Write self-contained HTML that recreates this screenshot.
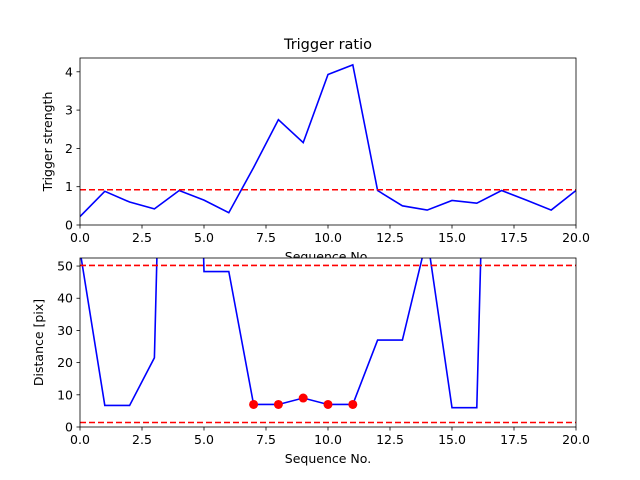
<!DOCTYPE html>
<html><head><meta charset="utf-8"><style>
body{margin:0;background:#fff}
svg{display:block;font-family:"DejaVu Sans","Liberation Sans",sans-serif}
</style></head><body>
<svg id="c" width="640" height="480" viewBox="0 0 640 480">
<rect width="640" height="480" fill="#fff"/>
<defs>
<clipPath id="cp1"><rect x="80" y="58" width="496" height="167"/></clipPath>
<clipPath id="cp2"><rect x="80" y="258" width="496" height="169"/></clipPath>
</defs>
<g id="g"></g>
</svg>
<script>
const seq = [0,1,2,3,4,5,6,7,8,9,10,11,12,13,14,15,16,17,18,19,20];
const strength = [0.22,0.88,0.6,0.42,0.9,0.65,0.32,1.5,2.75,2.15,3.93,4.18,0.9,0.5,0.39,0.64,0.57,0.9,0.65,0.39,0.9];
const strengthThreshold = 0.92;
const distance = [54.8,6.7,6.7,21.5,330,48.3,48.3,7,7,9,7,7,27,27,59,6,6,300,300,300,300];
const markedSeq = [7,8,9,10,11];
const markedDist = [7,7,9,7,7];
const distThresholds = [50.2,1.4];
const xTicks = [0,2.5,5,7.5,10,12.5,15,17.5,20];
const xTickLabels = ["0.0","2.5","5.0","7.5","10.0","12.5","15.0","17.5","20.0"];
const yTicks1 = [0,1,2,3,4];
const yTicks2 = [0,10,20,30,40,50];

const NS="http://www.w3.org/2000/svg";
const g=document.getElementById('g');
function el(t,a,p){const e=document.createElementNS(NS,t);for(const k in a)e.setAttribute(k,a[k]);(p||g).appendChild(e);return e;}
const X=v=>80+v/20*496;
const Y1=v=>225-v*(167/4.36);
const Y2=v=>427-v*(169/52.5);

function axes(top,bot,Y,yt,name,ylabel,clip){
  const grp=el('g',{});
  
  
  return grp;
}
function drawAxes(grp,top,bot,Y,yt,ylabel,pref){
  xTicks.forEach((t,i)=>{
    const l=el('line',{x1:X(t),x2:X(t),y1:bot,y2:bot+3.5,stroke:'#000','stroke-width':0.8},grp);
    
    
    const tx=el('text',{x:X(t),y:bot+17,'font-size':12.5,'text-anchor':'middle'},grp);
    
    
    tx.textContent=xTickLabels[i];
  });
  yt.forEach(t=>{
    const l=el('line',{x1:76.5,x2:80,y1:Y(t),y2:Y(t),stroke:'#000','stroke-width':0.8},grp);
    
    
    const tx=el('text',{x:73,y:Y(t)+4.5,'font-size':12.5,'text-anchor':'end'},grp);
    
    
    tx.textContent=String(t);
  });
  const yl=el('text',{x:0,y:0,'font-size':12.5,'text-anchor':'middle',transform:`translate(${pref==='top'?52:43},${(top+bot)/2}) rotate(-90)`},grp);
  
  
  yl.textContent=ylabel;
  const xl=el('text',{x:328,y:bot+36,'font-size':12.5,'text-anchor':'middle'},grp);
  
  
  xl.textContent='Sequence No.';
}

// top plot
const g1=axes();

const l1=el('polyline',{points:seq.map((s,i)=>X(s)+','+Y1(strength[i])).join(' '),fill:'none',stroke:'#0000ff','stroke-width':1.6,'clip-path':'url(#cp1)'},g1);


const th1=el('line',{x1:80,x2:576,y1:Y1(strengthThreshold),y2:Y1(strengthThreshold),stroke:'#ff0000','stroke-width':1.6,'stroke-dasharray':'6,3'},g1);


const f1=el('rect',{x:80,y:58,width:496,height:167,fill:'none',stroke:'#000','stroke-width':0.8},g1);


drawAxes(g1,58,225,Y1,yTicks1,'Trigger strength','top');

// bottom plot
const g2=axes();

const bg=el('rect',{x:80,y:258,width:496,height:169,fill:'#fff'},g2);


const l2=el('polyline',{points:seq.map((s,i)=>X(s)+','+Y2(distance[i])).join(' '),fill:'none',stroke:'#0000ff','stroke-width':1.6,'clip-path':'url(#cp2)'},g2);


distThresholds.forEach(v=>{
  const t=el('line',{x1:80,x2:576,y1:Y2(v),y2:Y2(v),stroke:'#ff0000','stroke-width':1.6,'stroke-dasharray':'6,3'},g2);
  
  
});
markedSeq.forEach((s,i)=>{
  const c=el('circle',{cx:X(s),cy:Y2(markedDist[i]),r:4.5,fill:'#ff0000'},g2);
  
  
});
const f2=el('rect',{x:80,y:258,width:496,height:169,fill:'none',stroke:'#000','stroke-width':0.8},g2);


drawAxes(g2,258,427,Y2,yTicks2,'Distance [pix]','bottom');

const title=el('text',{x:328,y:49,'font-size':14.5,'text-anchor':'middle'});


title.textContent='Trigger ratio';
</script>
</body></html>
